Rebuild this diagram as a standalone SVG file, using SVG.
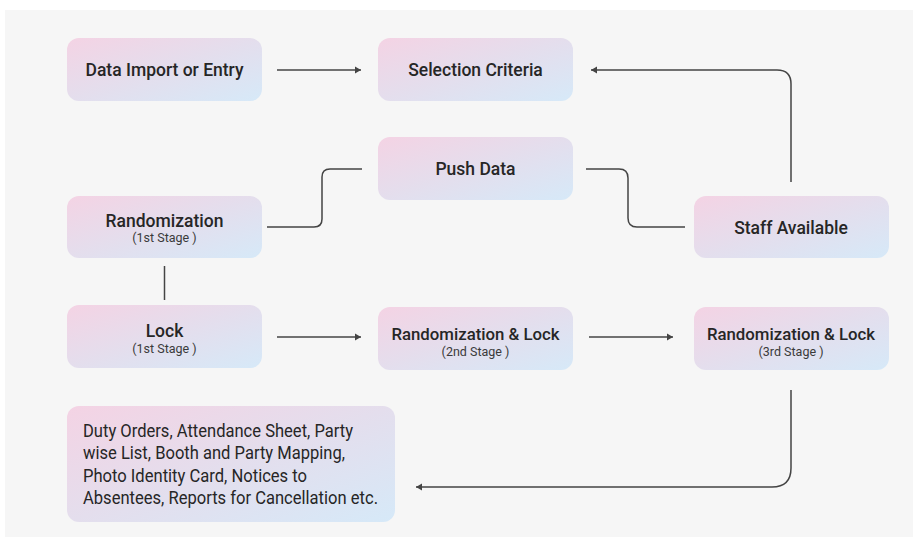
<svg xmlns="http://www.w3.org/2000/svg" width="922" height="546" viewBox="0 0 922 546">
<style>
.box{fill:url(#g);}
.t{font-family:Roboto,"Liberation Sans",sans-serif;font-size:17.5px;font-weight:500;fill:#262626;text-anchor:middle;}
.t2{font-size:16.8px;}
.s{font-family:Roboto,"Liberation Sans",sans-serif;font-size:12.5px;fill:#3a3a3a;text-anchor:middle;}
.b{font-family:Roboto,"Liberation Sans",sans-serif;font-size:18px;fill:#262626;}
.c{fill:none;stroke:#444;stroke-width:1.5;}
</style>
<defs>
<linearGradient id="g" x1="0" y1="0" x2="1" y2="1">
<stop offset="0" stop-color="#f4d3e4"/>
<stop offset="0.5" stop-color="#e4deed"/>
<stop offset="1" stop-color="#d6e9f8"/>
</linearGradient>
<marker id="a" markerUnits="userSpaceOnUse" markerWidth="7" markerHeight="8" refX="6" refY="4" orient="auto">
<path d="M0,0.5 L6,4 L0,7.5 z" fill="#444"/>
</marker>
</defs>
<rect x="0" y="0" width="922" height="546" fill="#ffffff"/>
<rect x="5" y="10" width="908" height="527" fill="#f6f6f6"/>
<g id="connectors">
<path class="c" d="M277,70 H361" marker-end="url(#a)"/>
<path class="c" d="M791,182 V84 Q791,70 777,70 H591" marker-end="url(#a)"/>
<path class="c" d="M267,227 H314 Q322,227 322,219 V177 Q322,169 330,169 H362"/>
<path class="c" d="M586,169 H619 Q628,169 628,178 V218 Q628,227 637,227 H685"/>
<path class="c" d="M164.5,266 V300"/>
<path class="c" d="M277,337 H361" marker-end="url(#a)"/>
<path class="c" d="M589,337 H673" marker-end="url(#a)"/>
<path class="c" d="M791,390 V468 Q791,487 772,487 H416" marker-end="url(#a)"/>
</g>
<g id="data-import">
<rect class="box" x="67" y="38" width="195" height="63" rx="12"/>
<text class="t" x="164.5" y="76">Data Import or Entry</text>
</g>
<g id="selection-criteria">
<rect class="box" x="378" y="38" width="195" height="63" rx="12"/>
<text class="t" x="475.5" y="76">Selection Criteria</text>
</g>
<g id="push-data">
<rect class="box" x="378" y="137" width="195" height="63" rx="12"/>
<text class="t" x="475.5" y="174.5">Push Data</text>
</g>
<g id="randomization-1">
<rect class="box" x="67" y="196" width="195" height="62" rx="12"/>
<text class="t" x="164.5" y="226.5">Randomization</text>
<text class="s" x="164.5" y="242">(1st Stage )</text>
</g>
<g id="staff-available">
<rect class="box" x="694" y="196" width="195" height="62" rx="12"/>
<text class="t" x="791" y="234">Staff Available</text>
</g>
<g id="lock-1">
<rect class="box" x="67" y="305" width="195" height="63" rx="12"/>
<text class="t" x="164.5" y="337">Lock</text>
<text class="s" x="164.5" y="353">(1st Stage )</text>
</g>
<g id="rand-lock-2">
<rect class="box" x="378" y="307" width="195" height="63" rx="12"/>
<text class="t t2" x="475.5" y="340">Randomization &amp; Lock</text>
<text class="s" x="475.5" y="356">(2nd Stage )</text>
</g>
<g id="rand-lock-3">
<rect class="box" x="694" y="307" width="195" height="63" rx="12"/>
<text class="t t2" x="791" y="340">Randomization &amp; Lock</text>
<text class="s" x="791" y="356">(3rd Stage )</text>
</g>
<g id="outputs">
<rect class="box" x="67" y="406" width="328" height="116" rx="12"/>
<text class="b" x="83" y="437" textLength="270" lengthAdjust="spacingAndGlyphs">Duty Orders, Attendance Sheet, Party</text>
<text class="b" x="83" y="459" textLength="262" lengthAdjust="spacingAndGlyphs">wise List, Booth and Party Mapping,</text>
<text class="b" x="83" y="481.5" textLength="224" lengthAdjust="spacingAndGlyphs">Photo Identity Card, Notices to</text>
<text class="b" x="83" y="503.5" textLength="295" lengthAdjust="spacingAndGlyphs">Absentees, Reports for Cancellation etc.</text>
</g>
</svg>
